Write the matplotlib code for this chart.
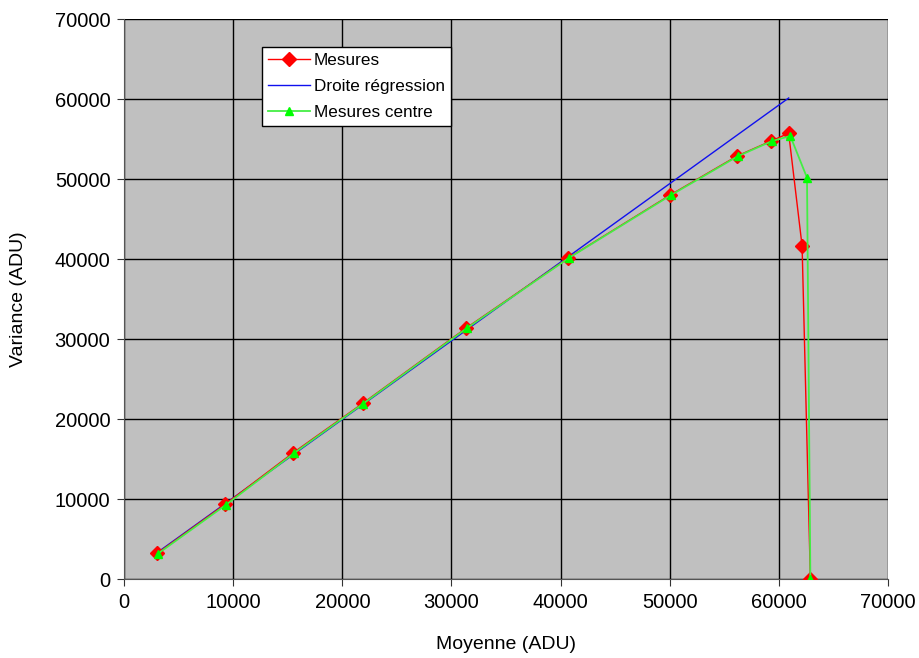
import numpy as np
import matplotlib.pyplot as plt

plt.rcParams['font.family'] = ['Liberation Sans', 'DejaVu Sans']

# Mesures (red)
moy = [3030, 9240, 15500, 21870, 31350, 40710, 50060, 56190, 59330, 60920, 62150, 62910]
var = [3250, 9370, 15830, 22000, 31410, 40160, 48040, 52910, 54800, 55750, 41660, 0]

# Mesures centre (green)
moy_c = [3080, 9330, 15550, 21900, 31400, 40750, 50100, 56250, 59400, 61070, 62600, 62910]
var_c = [3200, 9320, 15750, 21950, 31380, 40150, 48000, 52880, 54780, 55410, 50200, 0]

# Droite regression (blue)
reg_x = [3030, 60920]
reg_y = [3350, 60160]

fig = plt.figure(figsize=(9.2, 6.58), dpi=100)
ax = fig.add_axes([0.1351, 0.1196, 0.8298, 0.8511])
ax.set_facecolor('#c0c0c0')

ax.plot(moy, var, color='red', lw=1, marker='D', ms=7.5, label='Mesures', zorder=3)
ax.plot(reg_x, reg_y, color='#1010ee', lw=1, label='Droite régression', zorder=2)
ax.plot(moy_c, var_c, color='#44ee44', lw=1.3, marker='^', ms=6,
        markerfacecolor='#00ff00', markeredgecolor='#00ff00', label='Mesures centre', zorder=4)

ax.set_xlim(0, 70000)
ax.set_ylim(0, 70000)
ax.set_xticks(np.arange(0, 70001, 10000))
ax.set_yticks(np.arange(0, 70001, 10000))
ax.grid(True, color='black', lw=1)
ax.set_axisbelow(True)
ax.tick_params(direction='out', length=5, labelsize=14.5, color='#333333', pad=5)
for s in ['top', 'right']:
    ax.spines[s].set_visible(False)
for s in ['left', 'bottom']:
    ax.spines[s].set_color('#555555')

ax.set_xlabel('Moyenne (ADU)', fontsize=14, labelpad=17)
ax.set_ylabel('Variance (ADU)', fontsize=14, labelpad=20)

leg = ax.legend(loc='upper left', bbox_to_anchor=(0.180, 0.9505), borderaxespad=0,
                fontsize=12.3, fancybox=False, framealpha=1, edgecolor='black',
                handlelength=2.5, handletextpad=0.2, labelspacing=0.65, borderpad=0.35)
leg.get_frame().set_linewidth(1)

fig.savefig('out.png')
